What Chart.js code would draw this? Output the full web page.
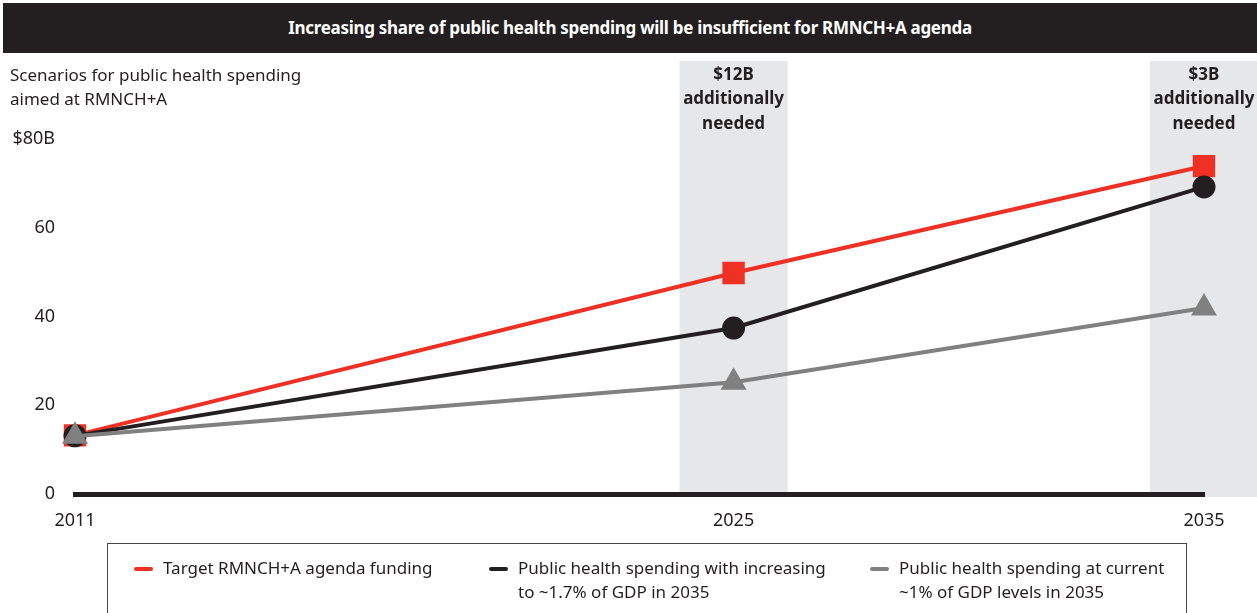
<!DOCTYPE html>
<html lang="en">
<head>
  <meta charset="UTF-8" />
  <title>Public health spending aimed at RMNCH+A</title>
  <script src="https://cdn.jsdelivr.net/npm/chart.js"></script>
  <style>
    body { margin: 0; font-family: "Noto Sans", sans-serif; color: #231f20; }
    #wrap { position: relative; width: 1257px; height: 613px; overflow: hidden; background: #fff; }
    #chart { position: absolute; left: 0; top: 0; }
    #title {
      position: absolute; left: 3px; top: 3px; width: 1254px; height: 50px;
      background: #231f20; color: #fff; font-weight: bold; font-size: 17px;
      line-height: 50px; text-align: center; letter-spacing: -0.3px;
    }
    #ylabel { position: absolute; left: 10px; top: 63px; font-size: 17px; line-height: 24px; }
    #legend {
      position: absolute; left: 107px; top: 543px; width: 1080px; height: 90px;
      border: 1px solid #444; box-sizing: border-box;
    }
    .item { position: absolute; top: 12px; font-size: 17px; line-height: 24px; }
    .item i { position: absolute; left: -29px; top: 11px; width: 19px; height: 4px; border-radius: 2px; }
  </style>
</head>
<body>
<div id="wrap">
  <canvas id="chart" width="1257" height="613"></canvas>
  <div id="title">Increasing share of public health spending will be insufficient for RMNCH+A agenda</div>
  <div id="ylabel">Scenarios for public health spending<br>aimed at RMNCH+A</div>
  <div id="legend">
    <div class="item" style="left:55px"><i style="background:#ee3124"></i>Target RMNCH+A agenda funding</div>
    <div class="item" style="left:410px"><i style="background:#231f20"></i>Public health spending with increasing<br>to ~1.7% of GDP in 2035</div>
    <div class="item" style="left:791px"><i style="background:#808080"></i>Public health spending at current<br>~1% of GDP levels in 2035</div>
  </div>
</div>

<script>
  // data
  const years = [2011, 2025, 2035];
  const targetFunding = [13.2, 49.8, 73.9];
  const increasingGdp = [13.1, 37.4, 69.2];
  const currentGdp = [13.0, 25.2, 41.9];
  const yTicks = [0, 20, 40, 60, 80];
  const gapYears = [2025, 2035];
  const gapLabels = [['$12B', 'additionally', 'needed'], ['$3B', 'additionally', 'needed']];

  const toXY = arr => arr.map((v, i) => ({ x: years[i], y: v }));

  // grey bands + labels, drawn before the axes so the axis line sits on top
  const bandPlugin = {
    id: 'bands',
    beforeDraw(chart) {
      const { ctx, scales: { x } } = chart;
      ctx.save();
      gapYears.forEach((yr, i) => {
        const l = x.getPixelForValue(yr - 1.15);
        const r = x.getPixelForValue(yr + 1.15);
        ctx.fillStyle = '#e6e7e8';
        ctx.fillRect(l, 61, r - l, 436);
        ctx.fillStyle = '#231f20';
        ctx.font = 'bold 17px "Noto Sans"';
        ctx.textAlign = 'center';
        ctx.textBaseline = 'middle';
        gapLabels[i].forEach((t, j) => ctx.fillText(t, (l + r) / 2, 75 + j * 24.5));
      });
      ctx.restore();
    }
  };

  new Chart(document.getElementById('chart'), {
    type: 'line',
    data: {
      datasets: [
        { label: 'Target RMNCH+A agenda funding', data: toXY(targetFunding), borderColor: '#ee3124',
          backgroundColor: '#ee3124', pointStyle: 'rect', pointRadius: 13, borderWidth: 4, order: 3, clip: false },
        { label: 'Public health spending with increasing to ~1.7% of GDP in 2035', data: toXY(increasingGdp),
          borderColor: '#231f20', backgroundColor: '#231f20', pointStyle: 'circle', pointRadius: 9.5, borderWidth: 4, order: 2, clip: false },
        { label: 'Public health spending at current ~1% of GDP levels in 2035', data: toXY(currentGdp),
          borderColor: '#808080', backgroundColor: '#808080', pointStyle: 'triangle', pointRadius: 11, borderWidth: 4, order: 1, clip: false }
      ]
    },
    options: {
      responsive: false,
      animation: false,
      layout: { autoPadding: false, padding: { top: 139, left: 0, right: 53, bottom: 79 } },
      elements: { point: { borderWidth: 0, hoverRadius: 10 } },
      plugins: { legend: { display: false }, tooltip: { enabled: false } },
      scales: {
        x: {
          type: 'linear', min: 2011, max: 2035,
          afterBuildTicks: s => { s.ticks = years.map(v => ({ value: v })); },
          afterFit: s => { s.height = 40; },
          grid: { display: false, drawTicks: false },
          border: { display: true, color: '#231f20', width: 5 },
          ticks: { padding: 16, color: '#231f20', font: { family: 'Noto Sans', size: 18 }, callback: v => String(v) }
        },
        y: {
          min: 0, max: 80,
          afterBuildTicks: s => { s.ticks = yTicks.map(v => ({ value: v })); },
          afterFit: s => { s.width = 75; },
          grid: { display: false, drawTicks: false },
          border: { display: false },
          ticks: { padding: 20, color: '#231f20', font: { family: 'Noto Sans', size: 18 },
            callback: v => v === 80 ? '$80B' : String(v) }
        }
      }
    },
    plugins: [bandPlugin]
  });
</script>
</body>
</html>
